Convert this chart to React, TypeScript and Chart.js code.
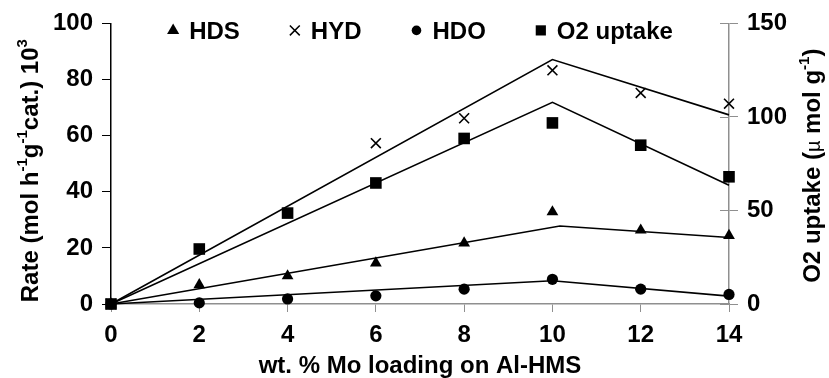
import { useEffect, useRef } from 'react';
import { Chart, registerables } from 'chart.js';
import { drawPoint } from 'chart.js/helpers';

Chart.register(...registerables);

// ---- data ----
const loadings = [0, 2, 4, 6, 8, 10, 12, 14];
const hdsRate = [0, 6.8, 10.0, 14.6, 21.7, 32.8, 26.3, 24.4];
const hydRate = [0, null, null, 57.3, 66.2, 83.3, 75.2, 71.4];
const hdoRate = [0, 0.4, 1.8, 2.9, 5.3, 8.8, 5.3, 3.4];
const o2Uptake = [0, 29.4, 48.6, 64.7, 88.5, 96.8, 84.9, 68.0];

const trendX = [0, 10, 14];
const hdsTrendX = [0, 10.17, 14];
const hdsTrend = [0, 27.8, 23.7];
const hydTrend = [0, 87.1, 67.4];
const hdoTrend = [0, 8.3, 2.8];
const o2Trend = [0, 107.8, 63.5];

const seriesLabels = ['HDS', 'HYD', 'HDO', 'O2 uptake'];
const xTitle = 'wt. % Mo loading on Al-HMS';

const FONT = '"Liberation Sans", Arial, Helvetica, sans-serif';
const GRAY = '#8f8f8f';

const pts = (xs: number[], ys: (number | null)[]) =>
  xs.map((x, i) => ({ x, y: ys[i] })).filter((p) => p.y !== null) as { x: number; y: number }[];

type Seg = { t: string; sup?: boolean; normal?: boolean };

function drawRich(ctx: CanvasRenderingContext2D, segs: Seg[], bx: number, cy: number, rotated: boolean, cx?: number) {
  const fontFor = (s: Seg) =>
    s.sup ? `bold 15px ${FONT}` : s.normal ? `20px ${FONT}` : `bold 24px ${FONT}`;
  let total = 0;
  const widths = segs.map((s) => {
    ctx.font = fontFor(s);
    const w = ctx.measureText(s.t).width;
    total += w;
    return w;
  });
  ctx.save();
  if (rotated) {
    ctx.translate(bx, cy);
    ctx.rotate(-Math.PI / 2);
  } else {
    ctx.translate(cx as number, cy);
  }
  ctx.fillStyle = '#000';
  ctx.textBaseline = 'alphabetic';
  ctx.textAlign = 'left';
  let x = -total / 2;
  segs.forEach((s, i) => {
    ctx.font = fontFor(s);
    ctx.fillText(s.t, x, s.sup ? -11 : 0);
    x += widths[i];
  });
  ctx.restore();
}

const legendStyles: Record<string, { style: string; r: number }> = {
  triangle: { style: 'triangle', r: 7 },
  crossRot: { style: 'crossRot', r: 7 },
  circle: { style: 'circle', r: 4.8 },
  rect: { style: 'rect', r: 7.2 },
};

const decorPlugin = {
  id: 'decor',
  afterDraw(chart: any) {
    const ctx: CanvasRenderingContext2D = chart.ctx;
    const { left, right, top, bottom } = chart.chartArea;

    // inner ticks on right axis
    const y1 = chart.scales.y1;
    ctx.save();
    ctx.strokeStyle = GRAY;
    ctx.lineWidth = 1;
    y1.ticks.forEach((t: any) => {
      const yy = Math.round(y1.getPixelForValue(t.value)) + 0.5;
      ctx.beginPath();
      ctx.moveTo(right - 9, yy);
      ctx.lineTo(right, yy);
      ctx.stroke();
    });
    ctx.restore();

    // legend
    const items = chart.data.datasets.filter((d: any) => d.inLegend);
    ctx.save();
    ctx.font = `bold 24px ${FONT}`;
    const widths = items.map((d: any) => 22 + ctx.measureText(d.label).width);
    const gap = 49;
    const total = widths.reduce((a: number, b: number) => a + b, 0) + gap * (items.length - 1);
    let x = (left + right) / 2 - total / 2;
    const ly = top + 7;
    items.forEach((d: any, i: number) => {
      const ls = legendStyles[d.pointStyle];
      ctx.fillStyle = '#000';
      ctx.strokeStyle = '#000';
      ctx.lineWidth = 1.5;
      drawPoint(ctx, { pointStyle: ls.style, radius: ls.r, rotation: 0, borderWidth: d.pointStyle === 'crossRot' ? 1.5 : 0 } as any, x + 6, ly);
      ctx.fillStyle = '#000';
      ctx.textBaseline = 'alphabetic';
      ctx.textAlign = 'left';
      ctx.font = `bold 24px ${FONT}`;
      ctx.fillText(d.label, x + 22, ly + 8.5);
      x += widths[i] + gap;
    });
    ctx.restore();

    // axis titles
    drawRich(ctx, [{ t: xTitle }], 0, 373, false, (left + right) / 2);
    drawRich(
      ctx,
      [{ t: 'Rate (mol h' }, { t: '-1', sup: true }, { t: 'g' }, { t: '-1', sup: true }, { t: 'cat.) 10' }, { t: '3', sup: true }],
      38,
      (top + bottom) / 2 + 7,
      true
    );
    drawRich(
      ctx,
      [{ t: 'O2 uptake (' }, { t: 'µ', normal: true }, { t: ' mol g' }, { t: '-1', sup: true }, { t: ')' }],
      820,
      (top + bottom) / 2 + 2,
      true
    );
  },
};

export default function App() {
  const ref = useRef<HTMLCanvasElement | null>(null);

  useEffect(() => {
    if (!ref.current) return;
    const tickFont = { family: FONT, size: 24, weight: 'bold' as const };
    const chart = new Chart(ref.current, {
      type: 'scatter',
      data: {
        datasets: [
          // trend lines
          { label: 'HDS trend', data: pts(hdsTrendX, hdsTrend), showLine: true, pointRadius: 0, borderColor: '#000', borderWidth: 1.6, yAxisID: 'y' },
          { label: 'HYD trend', data: pts(trendX, hydTrend), showLine: true, pointRadius: 0, borderColor: '#000', borderWidth: 1.6, yAxisID: 'y' },
          { label: 'HDO trend', data: pts(trendX, hdoTrend), showLine: true, pointRadius: 0, borderColor: '#000', borderWidth: 1.6, yAxisID: 'y' },
          { label: 'O2 trend', data: pts(trendX, o2Trend), showLine: true, pointRadius: 0, borderColor: '#000', borderWidth: 1.6, yAxisID: 'y1' },
          // markers
          { label: seriesLabels[0], inLegend: true, data: pts(loadings, hdsRate), pointStyle: 'triangle', pointRadius: 6.8, backgroundColor: '#000', borderColor: '#000', borderWidth: 0, yAxisID: 'y' } as any,
          { label: seriesLabels[1], inLegend: true, data: pts(loadings, hydRate), pointStyle: 'crossRot', pointRadius: 7, backgroundColor: '#000', borderColor: '#000', borderWidth: 1.6, yAxisID: 'y' } as any,
          { label: seriesLabels[2], inLegend: true, data: pts(loadings, hdoRate), pointStyle: 'circle', pointRadius: 5.6, backgroundColor: '#000', borderColor: '#000', borderWidth: 0, yAxisID: 'y' } as any,
          { label: seriesLabels[3], inLegend: true, data: pts(loadings, o2Uptake), pointStyle: 'rect', pointRadius: 8.2, backgroundColor: '#000', borderColor: '#000', borderWidth: 0, yAxisID: 'y1' } as any,
        ].map((d: any) => ({ ...d, clip: false })),
      },
      options: {
        animation: false,
        responsive: false,
        maintainAspectRatio: false,
        layout: { padding: { top: 23, left: 0, right: 0, bottom: 0 } },
        plugins: { legend: { display: false }, tooltip: { enabled: false } },
        scales: {
          x: {
            type: 'linear',
            min: 0,
            max: 14,
            ticks: { stepSize: 2, font: tickFont, color: '#000', padding: 9 },
            grid: { drawOnChartArea: false, tickLength: 8, color: GRAY, tickColor: GRAY },
            border: { color: GRAY, width: 1.5 },
            afterFit: (s: any) => { s.height = 74; },
          },
          y: {
            position: 'left',
            min: 0,
            max: 100,
            ticks: { stepSize: 20, font: tickFont, color: '#000', padding: 9 },
            grid: { drawOnChartArea: false, tickLength: 9, color: '#000', tickColor: '#000' },
            border: { color: '#000', width: 1.5 },
            afterFit: (s: any) => { s.width = 111; },
          },
          y1: {
            position: 'right',
            min: 0,
            max: 150,
            ticks: { stepSize: 50, font: tickFont, color: '#000', padding: 9 },
            grid: { drawOnChartArea: false, tickLength: 9, color: GRAY, tickColor: GRAY },
            border: { color: GRAY, width: 1.5 },
            afterFit: (s: any) => { s.width = 100; },
          },
        },
      },
      plugins: [decorPlugin],
    } as any);
    return () => chart.destroy();
  }, []);

  return (
    <div style={{ position: 'absolute', left: 0, top: 0, width: 829, height: 378, background: '#fff' }}>
      <canvas ref={ref} width={829} height={378} style={{ width: 829, height: 378, display: 'block' }} />
    </div>
  );
}
